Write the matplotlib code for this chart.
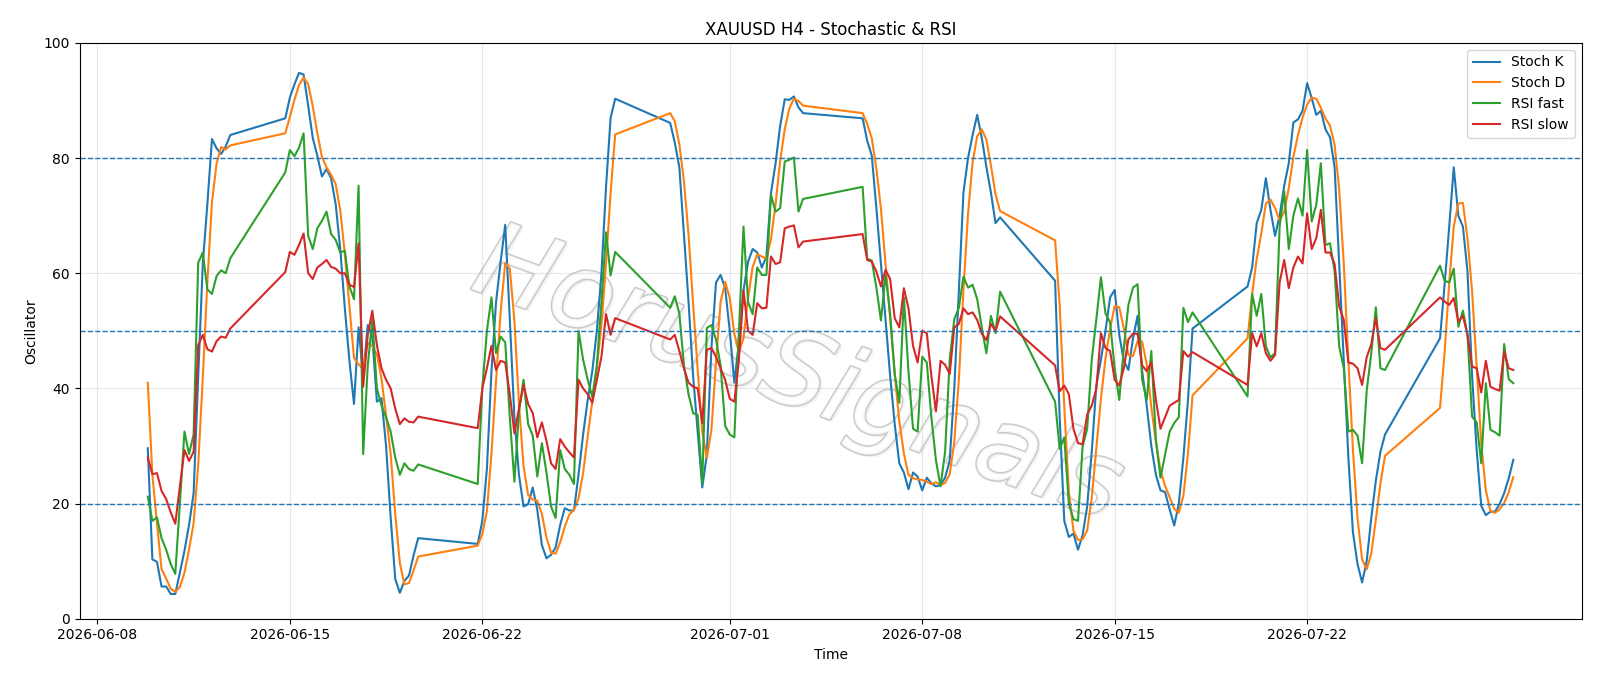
import matplotlib.pyplot as plt
import matplotlib.patheffects as pe
import pandas as pd

# H4 bars, trading blocks between the weekend gaps: first bar, number of bars
seg_start = ["2026-06-09 20:00", "2026-06-14 20:00", "2026-06-21 20:00", "2026-06-28 20:00",
             "2026-07-05 20:00", "2026-07-12 20:00", "2026-07-19 20:00", "2026-07-26 20:00"]
seg_bars = [19, 30, 31, 30, 31, 31, 31, 17]

stoch_k = [
    29.6, 10.3, 9.9, 5.6, 5.6, 4.3, 4.3, 8.0, 11.8, 16.3, 21.8, 42.0, 61.6, 72.0, 83.3, 81.7, 80.7, 82.0, 84.0,
    86.9, 90.5, 92.8, 94.8, 94.5, 89.1, 83.5, 80.4, 76.8, 78.1, 76.5, 72.0, 64.2, 53.9, 44.8, 37.3, 50.6, 42.0, 51.0, 49.0,
    37.7, 38.3, 30.0, 17.6, 6.9, 4.5, 6.6, 7.5, 11.0, 14.0,
    13.0, 17.0, 26.0, 43.0, 55.0, 62.0, 68.4, 52.0, 35.0, 25.0, 19.5, 19.9, 22.8, 18.9, 12.8, 10.5, 11.1, 12.4, 16.3, 19.2,
    18.8, 18.8, 25.0, 32.0, 38.0, 43.0, 50.0, 60.0, 75.0, 87.0, 90.3,
    86.1, 82.7, 78.4, 66.8, 55.1, 42.2, 32.5, 22.8, 28.5, 47.0, 58.4, 59.7, 57.4, 50.0, 41.0, 48.0, 57.0, 62.0, 64.2, 63.6,
    61.0, 62.9, 73.9, 79.1, 85.6, 90.2, 90.1, 90.7, 88.8, 87.8,
    86.9, 83.0, 80.4, 71.3, 61.6, 51.9, 42.2, 33.8, 27.0, 25.4, 22.5, 25.4, 24.7, 22.3, 24.5, 23.5, 23.0, 23.2, 24.5, 27.5,
    40.0, 57.0, 74.0, 80.0, 84.0, 87.5, 83.5, 78.5, 74.0, 68.7, 69.7,
    58.7, 35.0, 17.0, 14.2, 14.8, 12.0, 14.5, 19.5, 29.0, 40.5, 45.0, 50.0, 55.8, 57.1, 49.3, 44.8, 43.2, 48.7, 52.6, 43.0,
    37.0, 30.0, 25.0, 22.3, 22.0, 19.0, 16.2, 20.0, 28.0, 38.0, 50.4,
    57.7, 61.0, 68.7, 71.0, 76.5, 71.0, 66.5, 70.0, 75.2, 79.1, 86.2, 86.7, 88.2, 93.0, 90.4, 87.5, 88.2, 85.0, 83.6, 78.4,
    61.6, 45.0, 28.0, 15.0, 9.5, 6.3, 10.0, 17.5, 24.0, 29.0, 32.0,
    48.7, 58.0, 68.0, 78.4, 70.0, 68.1, 60.3, 42.2, 29.3, 19.6, 18.0, 18.6, 18.6, 19.9, 21.8, 24.4, 27.6,
]

stoch_d = [
    41.0, 25.0, 16.6, 8.6, 7.0, 5.2, 4.7, 5.5, 8.0, 12.0, 16.6, 26.7, 41.8, 58.5, 72.3, 79.0, 81.9, 81.5, 82.2,
    84.3, 87.1, 90.1, 92.7, 94.0, 92.8, 89.0, 84.3, 80.2, 78.4, 77.1, 75.5, 70.9, 63.4, 54.3, 45.3, 44.2, 43.3, 47.9, 47.3,
    45.9, 41.7, 35.3, 28.6, 18.2, 9.7, 6.0, 6.2, 8.4, 10.8,
    12.7, 14.7, 18.7, 28.7, 41.3, 53.3, 61.8, 60.8, 51.8, 37.3, 26.5, 21.5, 20.7, 20.5, 18.2, 14.1, 11.5, 11.3, 13.3, 16.0,
    18.1, 18.9, 20.9, 25.3, 31.7, 37.7, 43.7, 51.0, 61.7, 74.0, 84.1,
    87.8, 86.4, 82.4, 76.0, 66.8, 54.7, 43.3, 32.5, 27.9, 32.8, 44.6, 55.0, 58.5, 55.7, 49.5, 46.3, 48.7, 55.7, 61.1, 63.3,
    62.9, 62.5, 65.9, 72.0, 79.5, 85.0, 88.6, 90.3, 89.9, 89.1,
    87.8, 85.9, 83.4, 78.2, 71.1, 61.6, 51.9, 42.6, 34.3, 28.7, 25.0, 24.4, 24.2, 24.1, 23.8, 23.4, 23.7, 23.2, 23.6, 25.1,
    30.7, 41.5, 57.0, 70.3, 79.3, 83.8, 85.0, 83.2, 78.7, 73.7, 70.8,
    65.7, 54.5, 36.9, 22.1, 15.3, 13.7, 13.8, 15.3, 21.0, 29.7, 38.2, 45.2, 50.3, 54.3, 54.1, 50.4, 45.8, 45.6, 48.2, 48.1,
    44.2, 36.7, 30.7, 25.8, 23.1, 21.1, 19.1, 18.4, 21.4, 28.7, 38.8,
    48.7, 56.4, 62.5, 66.9, 72.1, 72.8, 71.3, 69.2, 70.6, 74.8, 80.2, 84.0, 87.0, 89.3, 90.5, 90.3, 88.7, 86.9, 85.6, 82.3,
    74.5, 61.7, 44.9, 29.3, 17.5, 10.3, 8.6, 11.3, 17.2, 23.5, 28.3,
    36.6, 46.2, 58.2, 68.1, 72.1, 72.2, 66.1, 56.9, 43.9, 30.4, 22.3, 18.7, 18.4, 19.0, 20.1, 22.0, 24.6,
]

rsi_fast = [
    21.2, 17.0, 17.6, 14.0, 12.0, 9.5, 7.8, 20.0, 32.5, 28.6, 32.0, 61.8, 63.6, 57.2, 56.4, 59.5, 60.5, 60.0, 62.6,
    77.5, 81.4, 80.3, 81.8, 84.3, 66.5, 64.2, 67.8, 69.1, 70.7, 66.8, 65.8, 63.6, 63.9, 57.7, 55.5, 75.2, 28.6, 44.0, 52.0,
    40.0, 37.0, 35.0, 32.5, 28.0, 25.0, 27.0, 26.0, 25.7, 26.8,
    23.4, 40.0, 50.0, 55.8, 46.1, 49.0, 48.0, 35.0, 23.8, 36.0, 41.5, 33.8, 31.8, 24.7, 30.5, 25.4, 19.5, 17.5, 29.3, 26.0,
    25.0, 23.4, 50.0, 45.0, 41.5, 38.5, 44.0, 55.0, 67.1, 59.6, 63.7,
    54.0, 56.0, 53.0, 44.0, 39.0, 35.7, 35.4, 23.5, 50.5, 51.0, 48.5, 44.0, 33.5, 32.0, 31.5, 50.0, 68.1, 55.0, 52.9, 61.0,
    59.7, 59.7, 73.6, 70.7, 71.3, 79.4, 79.7, 80.1, 70.7, 72.9,
    75.0, 62.5, 62.2, 57.5, 51.8, 59.7, 53.0, 42.5, 37.5, 55.8, 43.0, 33.0, 32.5, 45.5, 44.5, 35.0, 27.5, 23.0, 29.0, 45.0,
    52.0, 54.0, 59.4, 57.5, 58.0, 55.5, 50.6, 46.1, 52.6, 49.6, 56.8,
    37.7, 29.5, 31.5, 20.0, 17.3, 17.0, 29.9, 33.0, 45.0, 52.0, 59.3, 53.0, 51.5, 43.5, 38.0, 47.0, 54.5, 57.5, 58.1, 41.5,
    38.0, 46.5, 31.0, 24.5, 28.5, 32.5, 34.0, 35.0, 54.0, 51.5, 53.2,
    38.6, 56.4, 52.6, 56.4, 47.3, 45.4, 46.1, 68.1, 74.2, 64.2, 70.0, 73.0, 70.0, 81.4, 69.0, 71.9, 79.1, 64.9, 65.2, 60.3,
    47.3, 43.5, 32.5, 32.8, 31.8, 27.0, 39.6, 46.1, 54.1, 43.5, 43.2,
    61.3, 58.7, 58.4, 60.8, 50.7, 53.5, 49.3, 35.1, 34.1, 27.0, 40.9, 32.8, 32.4, 31.8, 47.7, 41.6, 40.9,
]

rsi_slow = [
    28.0, 25.1, 25.3, 22.2, 20.8, 18.5, 16.5, 23.0, 29.3, 27.4, 29.0, 47.5, 49.3, 46.8, 46.4, 48.2, 49.0, 48.8, 50.4,
    60.2, 63.7, 63.2, 64.9, 66.9, 60.0, 59.0, 61.0, 61.6, 62.3, 61.1, 60.8, 60.0, 60.0, 58.0, 57.6, 65.2, 40.3, 49.3, 53.5,
    47.5, 43.5, 41.5, 40.0, 36.5, 33.8, 34.8, 34.2, 34.1, 35.1,
    33.1, 40.0, 43.5, 47.4, 43.2, 44.8, 44.5, 39.0, 32.2, 36.5, 40.6, 37.3, 35.7, 31.5, 34.1, 30.9, 27.0, 26.0, 31.2, 29.9,
    28.9, 28.0, 41.5, 40.0, 39.0, 37.5, 41.5, 45.5, 52.9, 49.3, 52.2,
    48.5, 49.3, 46.5, 43.5, 41.0, 40.3, 40.0, 34.0, 46.7, 47.0, 45.5, 43.5, 41.5, 38.2, 37.7, 45.0, 57.0, 50.0, 49.3, 54.8,
    53.9, 54.0, 62.9, 61.6, 61.9, 67.8, 68.1, 68.3, 64.5, 65.5,
    66.8, 62.3, 62.0, 60.3, 57.7, 60.6, 59.0, 52.2, 50.6, 57.4, 53.9, 47.4, 44.5, 50.0, 49.6, 42.2, 36.0, 44.8, 44.1, 42.5,
    50.6, 51.2, 53.9, 52.9, 53.2, 51.9, 49.5, 48.4, 51.2, 50.0, 52.5,
    44.0, 39.5, 40.5, 39.0, 33.0, 30.5, 30.3, 35.5, 37.0, 40.0, 49.6, 47.0, 46.5, 41.5, 40.5, 43.5, 48.5, 49.5, 49.5, 44.0,
    43.0, 44.5, 38.0, 33.0, 35.0, 37.0, 37.5, 38.0, 46.5, 45.5, 46.3,
    40.6, 49.6, 47.3, 49.6, 46.1, 44.8, 45.8, 58.4, 62.3, 57.4, 61.0, 62.9, 61.7, 70.4, 64.2, 66.1, 71.0, 63.6, 63.6, 61.6,
    54.2, 51.9, 44.5, 44.3, 43.5, 40.6, 45.4, 47.7, 52.2, 47.0, 46.7,
    55.8, 55.1, 54.5, 55.7, 51.6, 52.6, 49.3, 43.8, 43.5, 39.3, 44.8, 40.3, 39.9, 39.6, 46.4, 43.5, 43.2,
]

levels = [80, 50, 20]

# build the bar times, block by block
times = []
for start, n in zip(seg_start, seg_bars):
    times.extend(pd.date_range(start, periods=n, freq="4h"))

fig, ax = plt.subplots(figsize=(16, 6.86), dpi=100)
fig.subplots_adjust(left=0.0497, right=0.9885, top=0.9375, bottom=0.098)

ax.plot(times, stoch_k, label="Stoch K")
ax.plot(times, stoch_d, label="Stoch D")
ax.plot(times, rsi_fast, label="RSI fast")
ax.plot(times, rsi_slow, label="RSI slow")

for lv in levels:
    ax.axhline(lv, color="C0", linestyle="--", linewidth=1)

ax.set_ylim(0, 100)
ax.set_title("XAUUSD H4 - Stochastic & RSI")
ax.set_xlabel("Time")
ax.set_ylabel("Oscillator")
ax.grid(True, alpha=0.3)
ax.legend(loc="upper right")

# watermark
ax.text(0.478, 0.42, "HorusSignals", transform=ax.transAxes, fontsize=75,
        style="italic", rotation=-20, ha="center", va="center",
        color="white", alpha=0.85, zorder=0,
        path_effects=[pe.SimplePatchShadow(offset=(2, -2), shadow_rgbFace="#d8d8d8"),
                      pe.Stroke(linewidth=2.2, foreground="#c2c2c2"), pe.Normal()])

fig.savefig("out.png", dpi=100)
